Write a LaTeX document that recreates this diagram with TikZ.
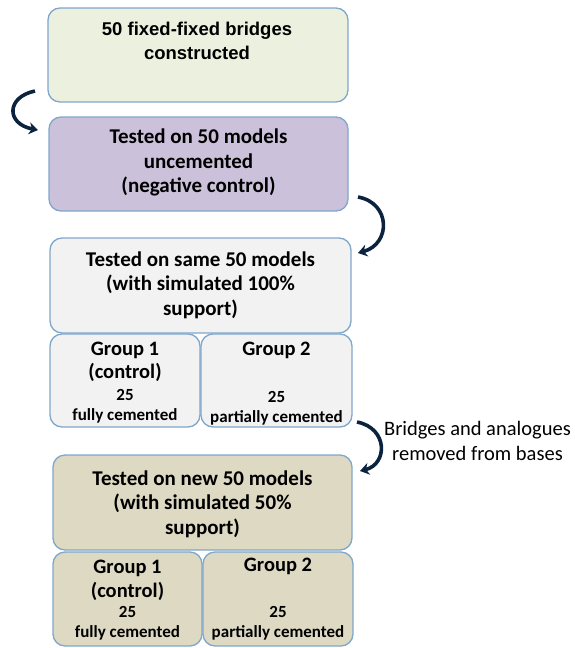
\documentclass[tikz,border=0pt]{standalone}
\usepackage{fontspec}
\setmainfont{Carlito}
\newfontfamily\helv{Liberation Sans}
\usetikzlibrary{arrows.meta}
\definecolor{bordc}{HTML}{7FA7CC}
\definecolor{greenf}{HTML}{EBF1DE}
\definecolor{purpf}{HTML}{CCC1DA}
\definecolor{grayf}{HTML}{F2F2F2}
\definecolor{tanf}{HTML}{DDD9C3}
\definecolor{navy}{HTML}{0C2340}
\tikzset{
  box/.style={draw=bordc, line width=1.3pt, rounded corners=12pt, inner sep=0pt},
  hdr/.style={font=\fontsize{21}{24.5}\selectfont\bfseries, align=center, inner sep=0pt, anchor=north},
  grp/.style={font=\fontsize{20.5}{23.5}\selectfont\bfseries, align=center, inner sep=0pt, anchor=north},
  small/.style={font=\fontsize{17}{20}\selectfont\bfseries, align=center, inner sep=0pt, anchor=north},
  lbl/.style={font=\fontsize{20.5}{25}\selectfont, align=center, inner sep=0pt},
  curv/.style={draw=navy, line width=3.6pt, -{Stealth[length=9pt,width=12pt]}}
}
\begin{document}
\begin{tikzpicture}[x=1pt,y=-1pt]
\useasboundingbox (0,0) rectangle (574,648);
% boxes
\node[box, fill=greenf, minimum width=300pt, minimum height=94pt] (b1) at (198,55) {};
\node[box, fill=purpf, minimum width=299pt, minimum height=94pt] (b2) at (198.5,164) {};
\node[box, fill=grayf, minimum width=301pt, minimum height=95pt] (b3) at (200.5,285.5) {};
\node[box, fill=grayf, minimum width=150pt, minimum height=93pt] (g1) at (125,380.5) {};
\node[box, fill=grayf, minimum width=151pt, minimum height=93pt] (g2) at (276.5,380.5) {};
\node[box, fill=tanf, minimum width=299pt, minimum height=95pt] (b4) at (202.5,502.5) {};
\node[box, fill=tanf, minimum width=149pt, minimum height=94pt] (h1) at (127.5,599) {};
\node[box, fill=tanf, minimum width=150pt, minimum height=94pt] (h2) at (278,599) {};
% texts
\node[hdr, font=\helv\fontsize{18.5}{24}\selectfont\bfseries] (t1) at (197,21.5) {50 fixed-fixed bridges\\constructed};
\node[hdr] (t2) at (198.5,129) {Tested on 50 models\\uncemented\\(negative control)};
\node[hdr] (t3) at (200.5,251.5) {Tested on same 50 models\\(with simulated 100\%\\support)};
\node[grp] (tg1) at (125,341.5) {Group 1\\(control)};
\node[small] (sg1) at (125,389.5) {25\\fully cemented};
\node[grp] (tg2) at (276.5,341.5) {Group 2};
\node[small] (sg2) at (276.5,391.5) {25\\partially cemented};
\node[hdr] (t4) at (202.5,470.5) {Tested on new 50 models\\(with simulated 50\%\\support)};
\node[grp] (th1) at (127.5,560) {Group 1\\(control)};
\node[small] (sh1) at (127.5,606.5) {25\\fully cemented};
\node[grp] (th2) at (278,558) {Group 2};
\node[small] (sh2) at (278,606.5) {25\\partially cemented};
\node[lbl] (lab) at (477.5,440.5) {Bridges and analogues\\removed from bases};
% arrows
\coordinate (a1s) at (35,91);
\coordinate (a1e) at (38,130);
\draw[curv] (a1s) .. controls (6,97) and (6,124) .. (a1e);
\coordinate (a2s) at (358,197);
\coordinate (a2e) at (358,253);
\draw[curv] (a2s) .. controls (391,203) and (391,244) .. (a2e);
\coordinate (a3s) at (357,422);
\coordinate (a3e) at (360,471);
\draw[curv] (a3s) .. controls (388,428) and (388,464) .. (a3e);
\end{tikzpicture}
\end{document}
